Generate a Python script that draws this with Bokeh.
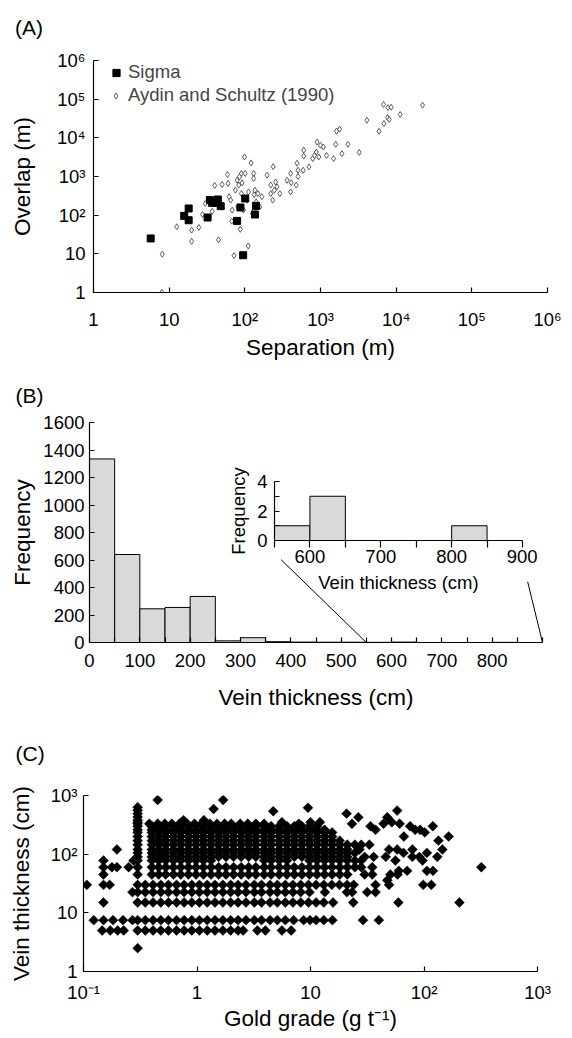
import math
from bokeh.plotting import figure
from bokeh.models import Range1d, FixedTicker, Legend, LegendItem
from bokeh.core.properties import value
from bokeh.embed import file_html
from bokeh.resources import INLINE

FONT = "Liberation Sans"

# ---------------- Panel A data ----------------
sigma_sep = [5.7, 15.8, 18.1, 18.1, 32.2, 34.5, 37, 44, 42, 48, 79, 87.5, 101, 95, 136, 141]
sigma_ovl = [25, 96, 149, 74, 87, 245, 208, 254, 207, 171, 71, 158, 270, 9.2, 104, 174]

aydin_sep = [8, 8.1, 12.6, 19.8, 19.8, 24.7, 27.6, 30, 37, 40, 44.8, 46, 50, 59, 60, 62, 65, 68, 67, 72,
             75, 79, 81, 83, 85, 87, 90, 90, 92, 96, 99, 101, 107, 111, 112, 121, 126, 131, 131, 133,
             133, 136, 141, 149, 157, 168, 197, 220, 220, 233, 237, 245, 255, 266, 290, 361, 403, 403,
             410, 478, 490, 505, 505, 590, 600, 600, 705, 790, 830, 880, 900, 950, 1000, 1090, 1200,
             1490, 1590, 1630, 1790, 1920, 2300, 3250, 4100, 5950, 6800, 6900, 7700, 7800, 8100, 8600,
             11300, 22300]
aydin_ovl = [1, 9.8, 50, 41, 21, 48, 104, 200, 126, 585, 23, 200, 620, 1130, 660, 300, 245, 135, 70, 9,
             443, 800, 164, 600, 980, 43, 1200, 363, 686, 135, 3200, 1200, 245, 16, 400, 2250, 110, 1200, 890, 135,
             340, 440, 220, 360, 164, 300, 1080, 360, 600, 245, 1800, 440, 720, 540, 360, 800, 1200, 400,
             690, 600, 2200, 1450, 1000, 1450, 3360, 4800, 1770, 2900, 3500, 4300, 7800, 3200, 6400, 5800, 3500,
             2900, 6800, 15000, 16700, 3900, 6800, 4200, 28600, 14800, 73000, 23500, 33600, 60600, 30000, 62000,
             40000, 70000]

a_ticks = [1, 10, 100, 1000, 10000, 100000, 1000000]
a_tick_labels = ["1", "10", "10²", "10³", "10⁴", "10⁵", "10⁶"]

# ---------------- Panel B data ----------------
bin_edges = [0, 50, 100, 150, 200, 250, 300, 350, 400, 450, 500, 550, 600, 650, 700, 750, 800, 850]
bin_counts = [1335, 640, 245, 255, 335, 12, 35, 6, 3, 2, 2, 1, 3, 0, 0, 0, 1]
b_x_major = [0, 100, 200, 300, 400, 500, 600, 700, 800]
b_x_minor = [50, 150, 250, 350, 450, 550, 650, 750, 850, 900]
b_y_ticks = [0, 200, 400, 600, 800, 1000, 1200, 1400, 1600]
inset_x_major = [600, 700, 800, 900]
inset_x_minor = [550, 650, 750, 850]
inset_y_major = [0, 2, 4]
inset_y_minor = [1, 3]

# ---------------- Panel C data (gold grade per vein-thickness level) ----------------
gc_t2_5 = [0.3]
gc_t5 = [0.146, 0.172, 0.2, 0.226, 0.3, 0.35, 0.41, 0.48, 0.56, 0.66, 0.77, 0.9, 1.05, 1.23, 1.44, 1.69,
         1.98, 2.3, 2.55, 3.4, 4.0, 5.6, 6.75]
gc_t7_5 = [0.123, 0.15, 0.182, 0.223, 0.27, 0.3, 0.35, 0.41, 0.48, 0.56, 0.66, 0.77, 0.9, 1.05, 1.23, 1.44,
           1.69, 1.98, 2.3, 2.7, 3.2, 3.7, 4.4, 5.1, 6.0, 7.1, 8.7, 9.9, 11.2, 13.1, 15.6, 29.0, 40.0]
gc_t15 = [0.15, 0.3, 0.35, 0.41, 0.48, 0.56, 0.66, 0.77, 0.9, 1.05, 1.23, 1.44, 1.69, 1.98, 2.3, 2.7, 3.2,
          3.7, 4.4, 5.1, 6.0, 7.0, 8.2, 9.6, 11.2, 13.1, 15.8, 23.8, 59.4, 205.0]
gc_t22_5 = [0.27, 0.3, 0.35, 0.41, 0.48, 0.56, 0.66, 0.77, 0.9, 1.05, 1.23, 1.44, 1.69, 1.98, 2.3, 2.7, 3.2,
            3.7, 4.4, 5.1, 6.0, 7.0, 8.2, 9.8, 13.4, 20.9, 23.3, 31.6, 37.4]
gc_t30 = [0.107, 0.15, 0.17, 0.3, 0.35, 0.41, 0.48, 0.56, 0.66, 0.77, 0.9, 1.05, 1.23, 1.44, 1.69, 1.98, 2.3,
          2.7, 3.2, 3.7, 4.4, 5.1, 6.0, 7.0, 8.2, 9.6, 11.2, 13.1, 15.4, 18.0, 21.0, 24.0, 37.4, 49.2, 98.5, 116.0]
gc_t36 = [47.5]
gc_t45 = [0.15, 0.3, 0.4, 0.46, 0.53, 0.62, 0.72, 0.84, 0.98, 1.14, 1.33, 1.55, 1.8, 2.1, 2.45, 2.85, 3.3,
          3.9, 4.5, 5.3, 6.2, 7.2, 8.4, 9.8, 11.4, 13.3, 15.5, 18.1, 21.1, 30.0, 35.0, 50.5, 58.5]
gc_t52 = [60.0, 71.0, 106.0, 120.0]
gc_t60 = [0.15, 0.178, 0.197, 0.25, 0.3, 0.4, 0.46, 0.53, 0.62, 0.72, 0.84, 0.98, 1.14, 1.33, 1.55, 1.8, 2.1,
          2.45, 2.85, 3.3, 3.9, 4.5, 5.3, 6.2, 7.2, 8.4, 9.8, 11.4, 13.3, 15.5, 18.1, 21.1, 24.6, 28.0, 35.0, 320.0]
gc_t78 = [0.15, 0.276, 0.3, 0.4, 0.46, 0.53, 0.62, 0.72, 0.84, 0.98, 1.14, 1.33, 3.9, 4.5, 5.3, 6.2, 9.8,
          11.4, 13.3, 15.5, 18.1, 21.1, 24.6, 28.0, 56.0, 97.0]
gc_t90 = [0.3, 0.4, 0.46, 0.53, 0.62, 0.72, 0.84, 0.98, 1.14, 1.33, 1.55, 1.8, 2.1, 2.45, 2.85, 3.3, 3.9, 4.5,
          5.3, 6.2, 7.2, 8.4, 9.8, 11.4, 13.3, 15.5, 18.1, 21.1, 30.0, 36.0, 46.0, 79.0, 91.0, 131.0]
gc_t105 = [0.3, 0.4, 0.46, 0.53, 0.62, 0.72, 0.84, 0.98, 1.14, 1.33, 1.55, 1.8, 2.1, 2.45, 2.85, 3.3, 3.9,
           4.5, 5.3, 6.2, 7.2, 8.4, 9.8, 11.4, 13.3, 15.5, 18.1, 21.1, 24.6, 66.0, 106.0]
gc_t120 = [0.197, 0.3, 0.4, 0.46, 0.53, 0.62, 0.72, 0.84, 0.98, 1.14, 1.33, 1.55, 1.8, 2.1, 2.45, 2.85, 3.3,
           3.9, 4.5, 5.3, 6.2, 7.2, 8.4, 9.8, 11.4, 13.3, 15.5, 18.1, 21.1, 27.0, 49.2, 58.0, 79.0, 145.0]
gc_t145 = [0.3, 0.4, 0.46, 0.53, 0.62, 0.72, 0.84, 0.98, 1.14, 1.33, 1.55, 1.8, 2.1, 2.45, 2.85, 3.3, 3.9,
           4.5, 5.3, 6.2, 7.2, 8.4, 9.8, 11.4, 13.3, 15.5, 18.1, 21.1, 24.6, 28.0, 33.0]
gc_t170 = [0.3, 0.4, 0.46, 0.53, 0.62, 0.72, 0.84, 0.98, 1.14, 1.33, 1.55, 1.8, 2.1, 2.45, 2.85, 3.3, 3.9,
           4.5, 5.3, 6.2, 7.2, 8.4, 9.8, 11.4, 13.3, 15.5, 18.1, 134.0]
gc_t200 = [0.3, 0.4, 0.46, 0.53, 0.62, 0.72, 0.84, 0.98, 1.14, 1.33, 1.55, 1.8, 2.1, 2.45, 2.85, 3.3, 3.9,
           4.5, 5.3, 6.2, 7.2, 8.4, 9.8, 11.4, 13.3, 15.5, 66.5, 165.0]
gc_t235 = [0.3, 0.4, 0.46, 0.53, 0.62, 0.72, 0.84, 0.98, 1.14, 1.33, 1.55, 1.8, 2.1, 2.45, 2.85, 3.3, 3.9,
           4.5, 5.3, 6.2, 7.2, 8.4, 9.8, 11.4, 13.3, 15.5, 101.6]
gc_t260 = [0.3, 0.4, 0.46, 0.53, 0.62, 0.72, 0.84, 0.98, 1.14, 1.33, 1.55, 1.8, 2.1, 2.45, 2.85, 3.3, 3.9,
           4.5, 5.3, 6.2, 7.2, 8.4, 9.8, 11.4, 13.3, 37.4, 83.6, 92.4]
gc_t300 = [0.3, 0.4, 0.46, 0.53, 0.62, 0.72, 0.84, 0.98, 1.14, 1.33, 1.55, 1.8, 2.1, 2.45, 2.85, 3.3, 3.9,
           4.5, 5.3, 6.2, 7.2, 8.4, 9.8, 11.4, 33.8, 75.4, 119.6]
gc_t330 = [0.3, 0.38, 0.45, 0.52, 0.6, 0.7, 0.82, 0.95, 1.1, 1.3, 1.5, 1.75, 2.0, 2.4, 2.8, 3.3, 3.9, 7.9,
           23.2, 44.0, 61.0]
gc_t350 = [0.3, 5.6, 10.0, 12.1, 52.0]
gc_t380 = [0.3, 0.76, 1.15]
gc_top_grade = [0.3, 0.3, 0.3, 0.3, 0.45, 1.7, 1.4, 4.7, 9.5, 20.8, 26.4, 47.5, 58.0]
gc_top_thick = [430, 490, 560, 630, 840, 840, 590, 540, 620, 490, 425, 425, 553]

c_x_ticks = [0.1, 1, 10, 100, 1000]
c_x_labels = ["10⁻¹", "1", "10", "10²", "10³"]
c_y_ticks = [1, 10, 100, 1000]
c_y_labels = ["1", "10", "10²", "10³"]

panel_letters = ["(A)", "(B)", "(C)"]

c_levels = [(2.5, gc_t2_5), (5, gc_t5), (7.5, gc_t7_5), (15, gc_t15), (22.5, gc_t22_5), (30, gc_t30),
            (36, gc_t36), (45, gc_t45), (52, gc_t52), (60, gc_t60), (78, gc_t78), (90, gc_t90),
            (105, gc_t105), (120, gc_t120), (145, gc_t145), (170, gc_t170), (200, gc_t200),
            (235, gc_t235), (260, gc_t260), (300, gc_t300), (330, gc_t330), (350, gc_t350), (380, gc_t380)]
c_grade, c_thick = [], []
for t, gl in c_levels:
    c_grade += gl
    c_thick += [t] * len(gl)
c_grade += gc_top_grade
c_thick += gc_top_thick


# ---------------- helpers ----------------
def make_fig(xr, yr, fw, fh, ml, mr, mt, mb, left, top, xtype="linear", ytype="linear"):
    p = figure(x_range=xr, y_range=yr, frame_width=fw, frame_height=fh,
               x_axis_type=xtype, y_axis_type=ytype, output_backend="svg",
               toolbar_location=None, min_border_left=ml, min_border_right=mr,
               min_border_top=mt, min_border_bottom=mb)
    p.outline_line_color = None
    p.xgrid.grid_line_color = None
    p.ygrid.grid_line_color = None
    p.background_fill_color = "white"
    p.border_fill_color = "white"
    p.styles = {"position": "absolute", "left": f"{left}px", "top": f"{top}px"}
    return p


def style_axis(ax, tick_in=5, tick_out=0, lab="18.5px", title="22.5px", lstand=8, tstand=8):
    ax.axis_line_color = "black"
    ax.axis_line_width = 1.2
    ax.major_tick_line_color = "black"
    ax.major_tick_line_width = 1.2
    ax.minor_tick_line_color = "black"
    ax.minor_tick_line_width = 1.2
    ax.major_tick_in = tick_in
    ax.major_tick_out = tick_out
    ax.minor_tick_in = tick_in
    ax.minor_tick_out = tick_out
    ax.major_label_text_font = FONT
    ax.major_label_text_font_size = lab
    ax.major_label_text_color = "black"
    ax.axis_label_text_font = FONT
    ax.axis_label_text_font_size = title
    ax.axis_label_text_font_style = "normal"
    ax.axis_label_text_color = "black"
    ax.major_label_standoff = lstand
    ax.axis_label_standoff = tstand


# ---------------- Panel A ----------------
pA = make_fig(Range1d(1, 1e6), Range1d(1, 1e6), 454, 232, 93, 25, 60, 70, 0, 0, "log", "log")
pA.xaxis.ticker = FixedTicker(ticks=a_ticks, minor_ticks=[])
pA.yaxis.ticker = FixedTicker(ticks=a_ticks, minor_ticks=[])
pA.xaxis.major_label_overrides = dict(zip(a_ticks, a_tick_labels))
pA.yaxis.major_label_overrides = dict(zip(a_ticks, a_tick_labels))
pA.xaxis.axis_label = "Separation (m)"
pA.yaxis.axis_label = "Overlap (m)"
style_axis(pA.xaxis, lstand=16, tstand=2)
style_axis(pA.yaxis, lstand=8, tstand=19)

r_ay = pA.scatter(aydin_sep, aydin_ovl, marker="diamond", size=6, fill_color="white",
                  line_color="#333333", line_width=0.8)
r_sig = pA.scatter(sigma_sep, sigma_ovl, marker="square", size=7, fill_color="black",
                   line_color="black")

for item_label, rend, loc, gw, stand in [("Sigma", r_sig, (14, 209), 18, 3),
                                          ("Aydin and Schultz (1990)", r_ay, (15, 186), 15, 5)]:
    leg = Legend(items=[LegendItem(label=item_label, renderers=[rend])], location=loc,
                 padding=0, margin=0, spacing=0, glyph_width=gw, glyph_height=21,
                 label_standoff=stand, label_text_font=FONT, label_text_font_size="18.5px",
                 border_line_color=None, background_fill_alpha=0)
    pA.add_layout(leg)

# ---------------- Panel B ----------------
pB = make_fig(Range1d(0, 900), Range1d(0, 1600), 453, 220, 89, 25, 59, 78, 0, 363)
pB.xaxis.ticker = FixedTicker(ticks=b_x_major, minor_ticks=b_x_minor)
pB.yaxis.ticker = FixedTicker(ticks=b_y_ticks, minor_ticks=[])
pB.xaxis.axis_label = "Vein thickness (cm)"
pB.yaxis.axis_label = "Frequency"
style_axis(pB.xaxis, lstand=11, tstand=15)
style_axis(pB.yaxis, lstand=5, tstand=5)
pB.quad(left=bin_edges[:-1], right=bin_edges[1:], bottom=0, top=bin_counts,
        fill_color="#d9d9d9", line_color="black", line_width=1)

# inset geometry (page pixels) used for placing inset and zoom connector lines
IN_FL, IN_FW, IN_FT, IN_FH = 273.5, 248, 481, 59    # inset frame
MB_FL, MB_FW, MB_FB, MB_FH = 89, 453, 642, 220      # main B frame
inset_anchor_x = [560, 908]
inset_anchor_y = [-1.3, -2.8]
main_anchor_x = [550, 900]
for ax_i, ay_i, mx in zip(inset_anchor_x, inset_anchor_y, main_anchor_x):
    px = IN_FL + (ax_i - 550) / 350 * IN_FW
    py = IN_FT + IN_FH - ay_i / 4 * IN_FH
    mx0 = (px - MB_FL) / MB_FW * 900
    my0 = (MB_FB - py) / MB_FH * 1600
    pB.line([mx0, mx], [my0, 0], line_color="black", line_width=1)

# inset figure
pI = make_fig(Range1d(550, 900), Range1d(0, 4), IN_FW, IN_FH, 50, 15, 25, 60,
              IN_FL - 50, IN_FT - 25)
pI.background_fill_alpha = 0
pI.border_fill_alpha = 0
pI.xaxis.ticker = FixedTicker(ticks=inset_x_major, minor_ticks=inset_x_minor)
pI.yaxis.ticker = FixedTicker(ticks=inset_y_major, minor_ticks=inset_y_minor)
pI.xaxis.axis_label = "Vein thickness (cm)"
pI.yaxis.axis_label = "Frequency"
style_axis(pI.xaxis, tick_in=0, tick_out=7, lab="18.5px", title="18.5px", lstand=2, tstand=6)
style_axis(pI.yaxis, tick_in=5, tick_out=0, lab="18.5px", title="18.5px", lstand=7, tstand=5)
ins_l = [l for l, c in zip(bin_edges[:-1], bin_counts) if l >= 550 and c > 0]
ins_r = [l + 50 for l in ins_l]
ins_c = [c for l, c in zip(bin_edges[:-1], bin_counts) if l >= 550 and c > 0]
pI.quad(left=ins_l, right=ins_r, bottom=0, top=ins_c, fill_color="#d9d9d9",
        line_color="black", line_width=1)
pI.styles = {"position": "absolute", "left": f"{IN_FL - 50}px", "top": f"{IN_FT - 25}px",
             "z-index": "5"}

# ---------------- Panel C ----------------
pC = make_fig(Range1d(0.1, 1000), Range1d(1, 1000), 454, 176, 83, 30, 75, 63, 0, 720, "log", "log")
pC.xaxis.ticker = FixedTicker(ticks=c_x_ticks, minor_ticks=[])
pC.yaxis.ticker = FixedTicker(ticks=c_y_ticks, minor_ticks=[])
pC.xaxis.major_label_overrides = dict(zip(c_x_ticks, c_x_labels))
pC.yaxis.major_label_overrides = dict(zip(c_y_ticks, c_y_labels))
pC.xaxis.axis_label = "Gold grade (g t⁻¹)"
pC.yaxis.axis_label = "Vein thickness (cm)"
style_axis(pC.xaxis, lstand=10, tstand=0)
style_axis(pC.yaxis, lstand=6, tstand=14)
pC.scatter(c_grade, c_thick, marker="square", angle=math.pi / 4, size=7,
           fill_color="black", line_color="black", line_width=0.5)

# ---------------- panel letters (transparent overlay, page-pixel ranges) ----------------
pL = figure(x_range=Range1d(0, 60), y_range=Range1d(770, 0), frame_width=60, frame_height=770,
            min_border=0, output_backend="svg", toolbar_location=None,
            x_axis_location=None, y_axis_location=None)
pL.outline_line_color = None
pL.xgrid.grid_line_color = None
pL.ygrid.grid_line_color = None
pL.background_fill_alpha = 0
pL.border_fill_alpha = 0
letter_x = [14.6, 15, 15]
letter_y = [26.5, 395, 752.7]
pL.text(x=letter_x, y=letter_y, text=panel_letters, text_font=value(FONT),
        text_font_size="21px", text_color="black", text_align="left",
        text_baseline="alphabetic")
pL.styles = {"position": "absolute", "left": "0px", "top": "0px", "z-index": "6"}

open("out.html", "w").write(file_html([pA, pB, pC, pI, pL], INLINE))
